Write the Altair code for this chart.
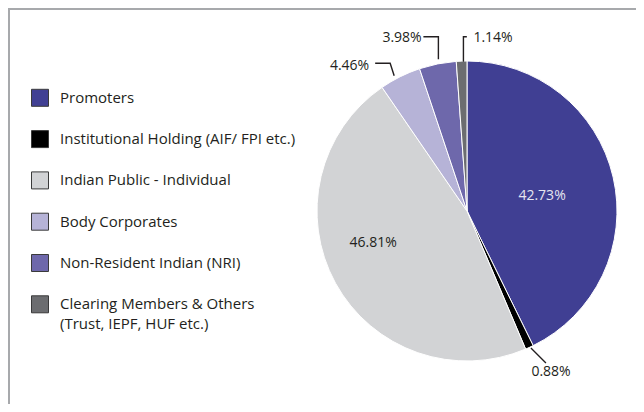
import altair as alt
import numpy as np
import pandas as pd

# ---- data ----
categories = [
    "Promoters",
    "Institutional Holding (AIF/ FPI etc.)",
    "Indian Public - Individual",
    "Body Corporates",
    "Non-Resident Indian (NRI)",
    "Clearing Members & Others\n(Trust, IEPF, HUF etc.)",
]
values = [42.73, 0.88, 46.81, 4.46, 3.98, 1.14]
value_labels = ["42.73%", "0.88%", "46.81%", "4.46%", "3.98%", "1.14%"]
colors = ["#403F93", "#000000", "#D2D3D5", "#B6B3D7", "#6E68AB", "#6C6D70"]

# ---- layout (pixels, view coordinates) ----
W, H = 628, 396
CX, CY, R = 459, 203, 150
FONT = "Open Sans"
TXT = "#231F20"
LEG_X_SYM, LEG_X_TXT, LEG_Y0, LEG_STEP, LEG_LINE = 32, 52, 89.8, 41.3, 19.5

# inside labels: (angle offset deg, radius fraction, colour)
inside = {0: (2, 0.51, "#E6E6F0"), 2: (10, 0.66, TXT)}
# outside labels: leader offsets from slice edge point, label offset, align
outside = {
    3: ([(-6, -1), (-10, -13.5), (-25, -13.5)], (-31, -10.5), "right"),
    4: ([(0.7, -4.6), (0.7, -27.2), (-14.3, -27.2)], (-16, -25.4), "right"),
    5: ([(1.8, 0.6), (1.8, -24.4), (5.2, -24.4)], (11.8, -22.6), "left"),
    1: ([(1.5, 0.5), (16.5, 15.5)], (21.6, 24.6), "center"),
}

vals = np.array(values)
cum = np.cumsum(vals)
mid = (cum - vals / 2) / vals.sum() * 2 * np.pi

pie_df = pd.DataFrame({"cat": categories, "value": values, "idx": range(len(values))})

lab_rows, line_rows = [], []
for i, lab in enumerate(value_labels):
    if i in inside:
        dth, fr, col = inside[i]
        th = mid[i] + np.radians(dth)
        lab_rows.append(dict(t=lab, x=CX + fr * R * np.sin(th), y=CY - fr * R * np.cos(th),
                             align="center", col=col))
    else:
        pts, (ldx, ldy), al = outside[i]
        ex, ey = CX + R * np.sin(mid[i]), CY - R * np.cos(mid[i])
        for k, (dx, dy) in enumerate(pts):
            line_rows.append(dict(g=lab, k=k, x=ex + dx, y=ey + dy))
        lab_rows.append(dict(t=lab, x=ex + ldx, y=ey + ldy, align=al, col=TXT))
lab_df = pd.DataFrame(lab_rows)
line_df = pd.DataFrame(line_rows)

leg_rows = []
for i, c in enumerate(categories):
    parts = c.split("\n")
    for j, p in enumerate(parts):
        leg_rows.append(dict(cat=c, t=p, line=j, i=i,
                             y=LEG_Y0 + i * LEG_STEP + j * LEG_LINE, sx=LEG_X_SYM, tx=LEG_X_TXT))
leg_df = pd.DataFrame(leg_rows)

color_scale = alt.Scale(domain=categories, range=colors)

pie = alt.Chart(pie_df).mark_arc(radius=R, stroke="white", strokeWidth=1).encode(
    theta=alt.Theta("value:Q", stack=True),
    order=alt.Order("idx:Q"),
    color=alt.Color("cat:N", scale=color_scale, legend=None),
    x=alt.value(CX),
    y=alt.value(CY),
)

leaders = alt.Chart(line_df).mark_line(color=TXT, strokeWidth=1.4).encode(
    x=alt.X("x:Q", scale=None),
    y=alt.Y("y:Q", scale=None),
    detail="g:N",
    order="k:Q",
)

def lab_layer(align):
    d = lab_df[lab_df["align"] == align]
    return alt.Chart(d).mark_text(font=FONT, fontSize=14, align=align, baseline="middle").encode(
        x=alt.X("x:Q", scale=None),
        y=alt.Y("y:Q", scale=None),
        text="t:N",
        color=alt.Color("col:N", scale=None),
    )

labels = [lab_layer(a) for a in ["center", "left", "right"]]

leg_sym = alt.Chart(leg_df[leg_df["line"] == 0]).mark_square(
    size=289, opacity=1, stroke="#3A3A3A", strokeWidth=1
).encode(
    x=alt.X("sx:Q", scale=None),
    y=alt.Y("y:Q", scale=None),
    color=alt.Color("cat:N", scale=color_scale, legend=None),
)
leg_txt = alt.Chart(leg_df).mark_text(
    font=FONT, fontSize=15, align="left", baseline="middle", color=TXT
).encode(
    x=alt.X("tx:Q", scale=None),
    y=alt.Y("y:Q", scale=None),
    text="t:N",
)

border = alt.Chart(pd.DataFrame({"a": [0]})).mark_rule(color="#A7A9AC", strokeWidth=2).encode(
    x=alt.value(0), x2=alt.value(W), y=alt.value(1), y2=alt.value(1)
)
border_l = alt.Chart(pd.DataFrame({"a": [0]})).mark_rule(color="#A7A9AC", strokeWidth=2).encode(
    x=alt.value(1), x2=alt.value(1), y=alt.value(0), y2=alt.value(H)
)

chart = alt.layer(border, border_l, pie, leaders, *labels, leg_sym, leg_txt).properties(
    width=W, height=H, padding=0, autosize=alt.AutoSizeParams(type="none")
).configure_view(stroke=None)

chart.save("out.html", embed_options={"renderer": "svg", "actions": False})
